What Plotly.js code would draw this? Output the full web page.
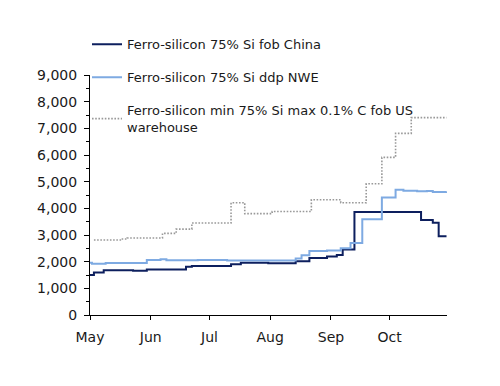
<!DOCTYPE html>
<html>
<head>
<meta charset="utf-8">
<script src="https://cdn.plot.ly/plotly-3.0.1.min.js"></script>
<style>html,body{margin:0;padding:0;background:#fff;}#chart{width:500px;height:386px;}</style>
</head>
<body>
<div id="chart"></div>
<script>
// Ferro-silicon 75% Si fob China
const chinaDates = ['2021-05-01','2021-05-03','2021-05-08','2021-05-23','2021-05-30','2021-06-19','2021-06-22','2021-07-12','2021-07-17','2021-07-31','2021-08-14','2021-08-21','2021-08-30','2021-09-04','2021-09-07','2021-09-13','2021-10-17','2021-10-23','2021-10-26','2021-10-30'];
const chinaValues = [1500,1590,1680,1660,1710,1810,1840,1900,1960,1940,2020,2140,2190,2250,2460,3860,3560,3460,2950,2950];

// Ferro-silicon 75% Si ddp NWE
const nweDates = ['2021-05-01','2021-05-02','2021-05-09','2021-05-30','2021-06-06','2021-06-09','2021-06-25','2021-07-10','2021-07-25','2021-08-14','2021-08-17','2021-08-21','2021-08-30','2021-09-06','2021-09-11','2021-09-17','2021-09-27','2021-10-04','2021-10-08','2021-10-15','2021-10-20','2021-10-23','2021-10-30'];
const nweValues = [1960,1920,1950,2060,2090,2050,2060,2040,2040,2120,2240,2400,2420,2500,2700,3590,4410,4700,4660,4640,4650,4610,4630];

// Ferro-silicon min 75% Si max 0.1% C fob US warehouse
const usDates = ['2021-05-03','2021-05-17','2021-05-20','2021-06-07','2021-06-14','2021-06-22','2021-07-12','2021-07-19','2021-08-02','2021-08-22','2021-09-06','2021-09-19','2021-09-27','2021-10-04','2021-10-12','2021-10-30'];
const usValues = [2810,2850,2890,3060,3220,3450,4210,3800,3880,4320,4210,4920,5910,6810,7400,7400];

const monthTicks = ['2021-05-01','2021-06-01','2021-07-01','2021-08-01','2021-09-01','2021-10-01'];
const monthLabels = ['May','Jun','Jul','Aug','Sep','Oct'];

const names = ['Ferro-silicon 75% Si fob China','Ferro-silicon 75% Si ddp NWE','Ferro-silicon min 75% Si max 0.1% C fob US<br>warehouse'];

const FONT = 'DejaVu Sans, sans-serif';

const traces = [
  {x: chinaDates, y: chinaValues, name: names[0], legendgroup: 'a', mode: 'lines', line: {shape: 'hv', color: '#0d1f5e', width: 2}},
  {x: nweDates, y: nweValues, name: names[1], legendgroup: 'b', mode: 'lines', line: {shape: 'hv', color: '#7eaae2', width: 2}},
  {x: usDates, y: usValues, name: names[2], legendgroup: 'c', mode: 'lines', line: {shape: 'hv', color: '#999999', width: 1.6, dash: '1.6px,1.6px'}}
];

const layout = {
  width: 500, height: 386,
  margin: {l: 90, r: 53, t: 75, b: 71},
  paper_bgcolor: '#fff', plot_bgcolor: '#fff',
  font: {family: FONT, color: '#1a1a1a', size: 14},
  showlegend: true,
  legend: {x: -0.0084, y: 1.19, xanchor: 'left', yanchor: 'top', bgcolor: 'rgba(0,0,0,0)',
           font: {family: FONT, size: 13, color: '#1a1a1a'}, traceorder: 'grouped', tracegroupgap: 13},
  xaxis: {type: 'date', range: ['2021-05-01', '2021-10-30 06:00'],
          tickmode: 'array', tickvals: monthTicks, ticktext: monthLabels,
          ticks: 'outside', ticklen: 4, tickcolor: '#000', showline: true, linecolor: '#000', linewidth: 1,
          showgrid: false, zeroline: false, tickfont: {family: FONT, size: 14}, ticklabelstandoff: 5},
  yaxis: {range: [0, 9000], tickvals: [0,1000,2000,3000,4000,5000,6000,7000,8000,9000],
          tickformat: ',d', ticks: 'outside', ticklen: 5, tickcolor: '#000',
          showline: true, linecolor: '#000', linewidth: 1, showgrid: false, zeroline: false,
          minor: {dtick: 500, ticks: 'outside', ticklen: 3, tickcolor: '#000', showgrid: false},
          tickfont: {family: FONT, size: 14}, ticklabelstandoff: 4}
};

Plotly.newPlot('chart', traces, layout, {displayModeBar: false, staticPlot: true});
</script>
</body>
</html>
